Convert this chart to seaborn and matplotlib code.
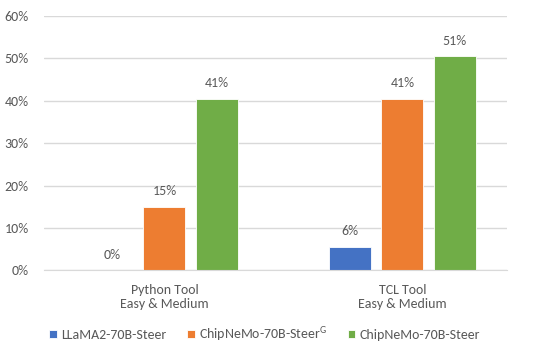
import math
import matplotlib
matplotlib.use("Agg")
import matplotlib.pyplot as plt
import seaborn as sns
import pandas as pd

# data
categories = ["Python Tool\nEasy & Medium", "TCL Tool\nEasy & Medium"]
models = ["LLaMA2-70B-Steer", r"ChipNeMo-70B-Steer$^{\mathregular{G}}$", "ChipNeMo-70B-Steer"]
llama = [0.0, 5.5]
chipnemo_g = [15.0, 40.5]
chipnemo = [40.5, 50.5]
colors = ["#4472C4", "#ED7D31", "#70AD47"]

rows = []
for m, vals in zip(models, [llama, chipnemo_g, chipnemo]):
    for c, v in zip(categories, vals):
        rows.append({"category": c, "model": m, "value": v})
df = pd.DataFrame(rows)

sns.set_style("white")
plt.rcParams["font.family"] = ["Carlito", "DejaVu Sans"]
txt = "#595959"
fs = 10

fig = plt.figure(figsize=(5.38, 3.56), dpi=100)
ax = fig.add_axes([0.0818, 0.2407, 0.86, 0.7143])

sns.barplot(data=df, x="category", y="value", hue="model", palette=colors,
            width=0.66, gap=0.2, ax=ax, legend=True, saturation=1,
            edgecolor="white", linewidth=0.6)

for cont in ax.containers:
    ax.bar_label(cont, labels=[f"{math.floor(v + 0.5)}%" for v in cont.datavalues],
                 padding=7, fontsize=fs, color=txt)

ax.set_ylim(0, 60)
ax.set_yticks(range(0, 61, 10))
ax.set_yticklabels([f"{t}%" for t in range(0, 61, 10)])
ax.set_xlim(-0.506, 1.438)
ax.yaxis.grid(True, color="#D9D9D9", linewidth=1)
ax.set_axisbelow(True)
for s in ["top", "right", "left"]:
    ax.spines[s].set_visible(False)
ax.spines["bottom"].set_color("#D9D9D9")
ax.tick_params(axis="both", length=0, labelsize=fs, labelcolor=txt)
ax.tick_params(axis="x", pad=10)
ax.tick_params(axis="y", pad=11)
ax.set_xlabel("")
ax.set_ylabel("")

handles, labels = ax.get_legend_handles_labels()
ax.get_legend().remove()
fig.legend(handles, labels, loc="center", bbox_to_anchor=(0.492, 0.062), ncol=3,
           frameon=False, fontsize=fs, handlelength=0.55, handleheight=0.55,
           handletextpad=0.3, columnspacing=1.5, labelcolor=txt)

fig.savefig("out.png", dpi=100)
